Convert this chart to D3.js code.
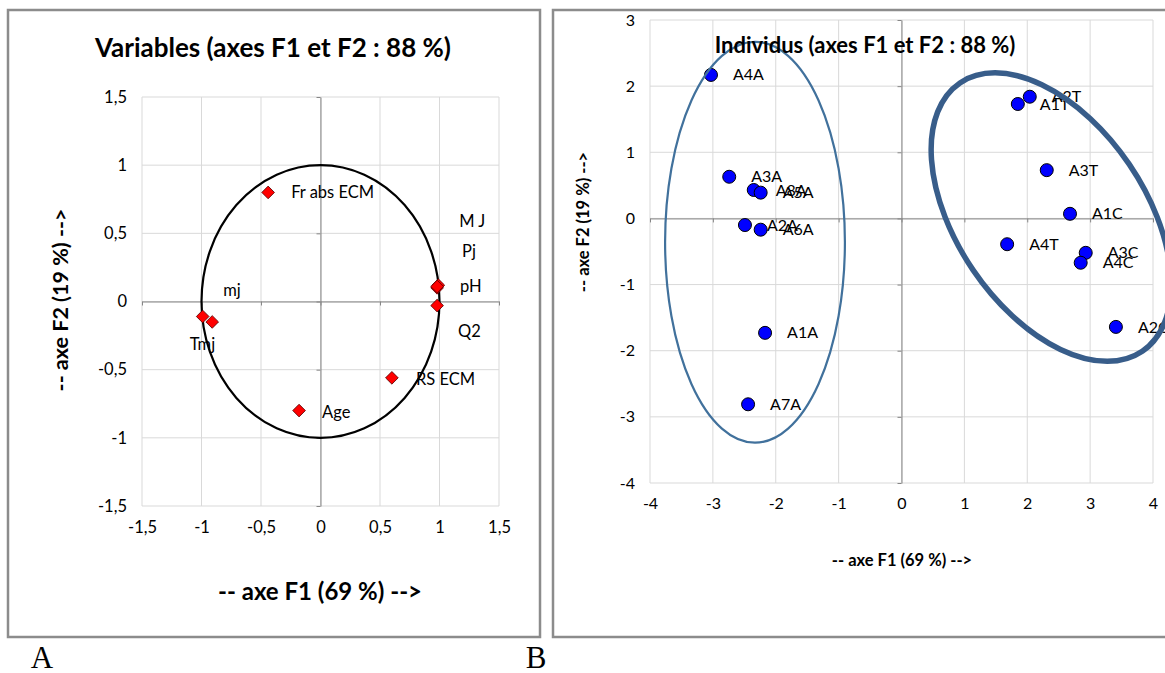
<!DOCTYPE html>
<html>
<head>
<meta charset="utf-8">
<script src="https://cdn.jsdelivr.net/npm/d3@7/dist/d3.min.js"></script>
<style>
  body { margin: 0; background: #fff; }
  text { font-family: Lato, "Open Sans", sans-serif; fill: #000; }
</style>
</head>
<body>
<svg id="chart" width="1165" height="673"></svg>
<script>
// Variables (correlation circle) - coordinates on F1 / F2
var varNames = ["Fr abs ECM", "M J", "Pj", "pH", "Q2", "mj", "Tmj", "RS ECM", "Age"];
var varF1 = [-0.44, 0.99, 0.98, 0.98, 0.98, -0.91, -0.99, 0.60, -0.18];
var varF2 = [0.80, 0.12, 0.10, 0.11, -0.03, -0.15, -0.11, -0.56, -0.80];
// labels that were moved by hand in the original (pixels from the point)
var varLabelDx = [23, 21, 25, 23, 21, 11, -13, 24, 23];
var varLabelDy = [0, -64, -37, 0, 26, -32, 28, 1, 2];
var varTicks = [-1.5, -1, -0.5, 0, 0.5, 1, 1.5];

// Individuals - coordinates on F1 / F2
var indNames = ["A4A", "A2T", "A1T", "A3A", "A8A", "A5A", "A3T", "A1C", "A2A", "A6A", "A4T", "A3C", "A4C", "A1A", "A2C", "A7A"];
var indF1 = [-3.03, 2.04, 1.85, -2.74, -2.35, -2.24, 2.31, 2.68, -2.49, -2.24, 1.68, 2.93, 2.85, -2.17, 3.41, -2.44];
var indF2 = [2.17, 1.84, 1.73, 0.63, 0.43, 0.39, 0.73, 0.07, -0.10, -0.17, -0.39, -0.52, -0.67, -1.73, -1.64, -2.81];
var indXTicks = [-4, -3, -2, -1, 0, 1, 2, 3, 4];
var indYTicks = [-4, -3, -2, -1, 0, 1, 2, 3];

// Groups drawn by hand round the individuals (data units)
var groupCx = [-2.33, 2.38];
var groupCy = [-0.36, 0.02];
var groupRx = [1.43, 2.58];
var groupRy = [3.03, 1.50];
var groupAngle = [0, 55.8];

var svg = d3.select("#chart");
var comma = function(d) { return String(d).replace(".", ","); };

// Outer frames
svg.append("rect").attr("x", 8).attr("y", 10).attr("width", 532).attr("height", 627)
   .attr("fill", "none").attr("stroke", "#8c8c8c").attr("stroke-width", 2.5);
svg.append("rect").attr("x", 553).attr("y", 10).attr("width", 640).attr("height", 627)
   .attr("fill", "none").attr("stroke", "#8c8c8c").attr("stroke-width", 2.5);

// Draws grid, zero axes and tick labels of one panel
function drawFrame(g, x, y, xt, yt, fontSize) {
    var x0 = x.range()[0], x1 = x.range()[1];
    var y0 = y.range()[0], y1 = y.range()[1];

    g.selectAll(".gx").data(xt).enter().append("line")
     .attr("x1", function(d) { return x(d); }).attr("x2", function(d) { return x(d); })
     .attr("y1", y1).attr("y2", y0)
     .attr("stroke", "#d9d9d9");
    g.selectAll(".gy").data(yt).enter().append("line")
     .attr("y1", function(d) { return y(d); }).attr("y2", function(d) { return y(d); })
     .attr("x1", x0).attr("x2", x1)
     .attr("stroke", "#d9d9d9");

    // zero axes with small outside ticks
    g.append("g").attr("transform", "translate(0," + y(0) + ")")
     .call(d3.axisBottom(x).tickValues(xt).tickSize(4).tickSizeOuter(0).tickFormat(""));
    g.append("g").attr("transform", "translate(" + x(0) + ",0)")
     .call(d3.axisLeft(y).tickValues(yt).tickSize(4).tickSizeOuter(0).tickFormat(""));
    g.selectAll(".domain, .tick line").attr("stroke", "#868686");

    // tick labels
    var lx = g.append("g").attr("transform", "translate(0," + (y0 + 12) + ")")
              .call(d3.axisBottom(x).tickValues(xt).tickSize(0).tickFormat(comma));
    lx.select(".domain").remove();
    lx.selectAll("text").style("font-size", fontSize + "px").style("font-family", "Lato, sans-serif").attr("fill", "#000");
    var ly = g.append("g").attr("transform", "translate(" + (x0 - 12) + ",0)")
              .call(d3.axisLeft(y).tickValues(yt).tickSize(0).tickFormat(comma));
    ly.select(".domain").remove();
    ly.selectAll("text").style("font-size", fontSize + "px").style("font-family", "Lato, sans-serif").attr("fill", "#000");
}

// ---------- A : variables ----------
var xa = d3.scaleLinear().domain([-1.5, 1.5]).range([142, 499]);
var ya = d3.scaleLinear().domain([-1.5, 1.5]).range([506, 97]);
var ga = svg.append("g");
drawFrame(ga, xa, ya, varTicks, varTicks, 16.5);

ga.append("text").attr("x", 273).attr("y", 48).attr("dy", "0.35em")
  .attr("text-anchor", "middle").style("font-size", "26px").style("font-weight", "bold")
  .text("Variables (axes F1 et F2 : 88 %)");
ga.append("text").attr("x", 320).attr("y", 592).attr("dy", "0.35em")
  .attr("text-anchor", "middle").style("font-size", "24px").style("font-weight", "bold")
  .text("-- axe F1 (69 %) -->");
ga.append("text").attr("transform", "translate(60,300) rotate(-90)").attr("dy", "0.35em")
  .attr("text-anchor", "middle").style("font-size", "21.5px").style("font-weight", "bold")
  .text("-- axe F2 (19 %) -->");

// unit circle
ga.append("ellipse")
  .attr("cx", xa(0)).attr("cy", ya(0))
  .attr("rx", xa(1) - xa(0)).attr("ry", ya(0) - ya(1))
  .attr("fill", "none").attr("stroke", "#000").attr("stroke-width", 2.2);

var diamond = d3.symbol().type(d3.symbolSquare).size(80);
var vidx = d3.range(varNames.length);
ga.selectAll(".pt").data(vidx).enter().append("path")
  .attr("d", diamond)
  .attr("transform", function(i) { return "translate(" + xa(varF1[i]) + "," + ya(varF2[i]) + ") rotate(45)"; })
  .attr("fill", "#ff0000").attr("stroke", "#5a0000").attr("stroke-width", 0.8);
ga.selectAll(".lb").data(vidx).enter().append("text")
  .attr("x", function(i) { return xa(varF1[i]) + varLabelDx[i]; })
  .attr("y", function(i) { return ya(varF2[i]) + varLabelDy[i]; })
  .attr("dy", "0.35em").style("font-size", "16.5px")
  .text(function(i) { return varNames[i]; });

// ---------- B : individuals ----------
var xb = d3.scaleLinear().domain([-4, 4]).range([650, 1153]);
var yb = d3.scaleLinear().domain([-4, 3]).range([483, 20]);
var gb = svg.append("g");
drawFrame(gb, xb, yb, indXTicks, indYTicks, 16);

gb.append("text").attr("x", 902).attr("y", 560).attr("dy", "0.35em")
  .attr("text-anchor", "middle").style("font-size", "16.5px").style("font-weight", "bold")
  .text("-- axe F1 (69 %) -->");
gb.append("text").attr("transform", "translate(583,222) rotate(-90)").attr("dy", "0.35em")
  .attr("text-anchor", "middle").style("font-size", "16.5px").style("font-weight", "bold")
  .text("-- axe F2 (19 %) -->");

var iidx = d3.range(indNames.length);
gb.selectAll(".pt").data(iidx).enter().append("circle")
  .attr("cx", function(i) { return xb(indF1[i]); })
  .attr("cy", function(i) { return yb(indF2[i]); })
  .attr("r", 6.5)
  .attr("fill", "#0000ff").attr("stroke", "#000").attr("stroke-width", 1);
gb.selectAll(".lb").data(iidx).enter().append("text")
  .attr("x", function(i) { return xb(indF1[i]) + 22; })
  .attr("y", function(i) { return yb(indF2[i]); })
  .attr("dy", "0.35em").style("font-size", "16px")
  .text(function(i) { return indNames[i]; });

// group ellipses
var gidx = d3.range(groupCx.length);
gb.selectAll(".grp").data(gidx).enter().append("ellipse")
  .attr("cx", 0).attr("cy", 0)
  .attr("rx", function(i) { return xb(groupCx[i] + groupRx[i]) - xb(groupCx[i]); })
  .attr("ry", function(i) { return i === 0 ? yb(groupCy[i]) - yb(groupCy[i] + groupRy[i]) : xb(groupCx[i] + groupRy[i]) - xb(groupCx[i]); })
  .attr("transform", function(i) { return "translate(" + xb(groupCx[i]) + "," + yb(groupCy[i]) + ") rotate(" + groupAngle[i] + ")"; })
  .attr("fill", "none")
  .attr("stroke", function(i) { return i === 0 ? "#41719c" : "#385d8a"; })
  .attr("stroke-width", function(i) { return i === 0 ? 2.2 : 5.5; });

gb.append("text").attr("x", 865).attr("y", 45).attr("dy", "0.35em")
  .attr("text-anchor", "middle").style("font-size", "22px").style("font-weight", "bold")
  .text("Individus (axes F1 et F2 : 88 %)");

// panel letters
svg.append("text").attr("x", 42).attr("y", 668).attr("text-anchor", "middle")
   .style("font-family", "'Liberation Serif', serif").style("font-size", "31px").text("A");
svg.append("text").attr("x", 536).attr("y", 668).attr("text-anchor", "middle")
   .style("font-family", "'Liberation Serif', serif").style("font-size", "31px").text("B");
</script>
</body>
</html>
